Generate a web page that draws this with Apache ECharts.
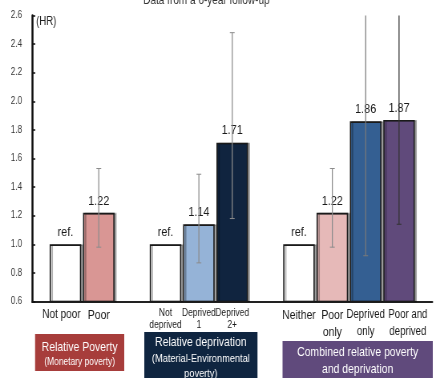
<!DOCTYPE html>
<html>
<head>
<meta charset="utf-8">
<script src="https://cdn.jsdelivr.net/npm/echarts@6/dist/echarts.min.js"></script>
<style>
html,body{margin:0;padding:0;background:#fff;overflow:hidden;width:434px;height:378px}
#c{width:542.5px;height:378px;transform:scaleX(0.8);transform-origin:0 0}
</style>
</head>
<body>
<div id="c"></div>
<script>
var categories = ['', 'Not poor', 'Poor', '', 'Not\ndeprived', 'Deprived\n1', 'Deprived\n2+', '', 'Neither', 'Poor\nonly', 'Deprived\nonly', 'Poor and\ndeprived', ''];
var hrValues = [null, 1.00, 1.22, null, 1.00, 1.14, 1.71, null, 1.00, 1.22, 1.86, 1.87, null];
var ciLower = [null, null, 0.98, null, null, 0.87, 1.18, null, null, 0.98, 0.92, 1.14, null];
var ciUpper = [null, null, 1.53, null, null, 1.49, 2.48, null, null, 1.53, 3.00, 3.00, null];
var barColors = ['#fff', '#ffffff', '#D99694', '#fff', '#ffffff', '#95B3D7', '#10243F', '#fff', '#ffffff', '#E6B9B8', '#345F92', '#604A7B', '#fff'];
var errColors = ['', '', '#8c8c8c', '', '', '#8c8c8c', '#8c8c8c', '', '', '#8c8c8c', '#7a7a7a', '#333333', ''];
var yTicks = ['0.6', '0.8', '1.0', '1.2', '1.4', '1.6', '1.8', '2.0', '2.2', '2.4', '2.6'];
var labelStyle = {
  1: 'np', 2: 'big', 4: 'small', 5: 'small', 6: 'small',
  8: 'big', 9: 'big', 10: 'mid', 11: 'mid2'
};

var S = 0.8; // horizontal compression of the whole page (text in the source is condensed)
function X(px) { return px / S; }
var FONT = '"Liberation Sans", Arial, sans-serif';

var chart = echarts.init(document.getElementById('c'), null, {renderer: 'canvas', width: 542.5, height: 378});

var barData = hrValues.map(function (v, i) {
  if (v === null) return null;
  return {value: v, itemStyle: {color: barColors[i]}};
});

var errData = [];
for (var i = 0; i < categories.length; i++) {
  if (ciLower[i] !== null) errData.push([i, ciLower[i], ciUpper[i]]);
}

var option = {
  animation: false,
  textStyle: {fontFamily: FONT},
  title: {
    text: 'Data from a 6-year follow-up',
    left: X(202), top: -11,
    textAlign: 'center',
    textStyle: {fontFamily: FONT, fontSize: 12.5, fontWeight: 'normal', color: '#333'}
  },
  grid: {left: X(32), top: 15.5, width: X(405), bottom: 76.5, containLabel: false},
  xAxis: {
    type: 'category',
    data: categories,
    boundaryGap: false,
    axisLine: {lineStyle: {color: '#222', width: 2}},
    axisTick: {show: false},
    axisLabel: {
      interval: 0,
      margin: 5,
      formatter: function (val, idx) {
        var s = labelStyle[idx];
        if (!s) return '';
        return val.split('\n').map(function (l) { return '{' + s + '|' + l + '}'; }).join('\n');
      },
      rich: {
        np: {fontFamily: FONT, fontSize: 12.5, lineHeight: 17, color: '#1a1a1a', padding: [0, 10, 0, 0]},
        big: {fontFamily: FONT, fontSize: 13, lineHeight: 17, color: '#1a1a1a'},
        small: {fontFamily: FONT, fontSize: 10.5, lineHeight: 12.5, color: '#1a1a1a'},
        mid: {fontFamily: FONT, fontSize: 12, lineHeight: 17, color: '#1a1a1a'},
        mid2: {fontFamily: FONT, fontSize: 12, lineHeight: 17, color: '#1a1a1a', padding: [0, 0, 0, 22]}
      }
    },
    splitLine: {show: false}
  },
  yAxis: {
    type: 'value',
    min: 0.6, max: 2.6, interval: 0.2,
    axisLine: {show: true, lineStyle: {color: '#111', width: 2.5}},
    axisTick: {show: true, inside: true, length: 4, lineStyle: {color: '#111', width: 1.5}},
    axisLabel: {
      margin: X(10),
      fontFamily: FONT, fontSize: 10, color: '#333',
      formatter: function (v) { var i = Math.round((v - 0.6) / 0.2); return yTicks[i] || ''; }
    },
    splitLine: {show: false}
  },
  series: [
    {
      type: 'bar',
      data: barData,
      barWidth: X(31.5),
      itemStyle: {borderColor: '#1a1a1a', borderWidth: 1.6, shadowColor: 'rgba(0,0,0,0.3)', shadowOffsetX: 2.5, shadowOffsetY: 0, shadowBlur: 0},
      label: {
        show: true,
        position: 'top',
        distance: 5,
        fontFamily: FONT, fontSize: 13.5, color: '#1a1a1a',
        formatter: function (p) { return p.value === 1 ? 'ref.' : p.value.toFixed(2); }
      },
      z: 2
    },
    {
      type: 'custom',
      clip: true,
      data: errData,
      encode: {x: 0, y: [1, 2]},
      renderItem: function (params, api) {
        var idx = api.value(0);
        var lo = api.coord([idx, api.value(1)]);
        var hi = api.coord([idx, api.value(2)]);
        var col = errColors[idx];
        var cw = 3;
        var style = {stroke: col, lineWidth: 1.25};
        var capStyle = {stroke: col, lineWidth: 1};
        var children = [
          {type: 'line', shape: {x1: lo[0], y1: lo[1], x2: hi[0], y2: hi[1]}, style: style},
          {type: 'line', shape: {x1: lo[0] - cw, y1: lo[1], x2: lo[0] + cw, y2: lo[1]}, style: capStyle},
          {type: 'line', shape: {x1: hi[0] - cw, y1: hi[1], x2: hi[0] + cw, y2: hi[1]}, style: capStyle}
        ];
        return {type: 'group', children: children};
      },
      z: 5
    }
  ],
  graphic: [
    {type: 'text', left: X(36), top: 15.5, style: {text: '(HR)', fontFamily: FONT, fontSize: 12, fill: '#222'}},
    {type: 'rect', shape: {x: X(35), y: 334, width: X(89), height: 37}, style: {fill: '#A73D3B'}},
    {type: 'text', x: X(79.5), y: 347, style: {text: 'Relative Poverty', fontFamily: FONT, fontSize: 13, fill: '#fff', align: 'center', verticalAlign: 'middle'}},
    {type: 'text', x: X(79.5), y: 362, style: {text: '(Monetary poverty)', fontFamily: FONT, fontSize: 10.5, fill: '#fff', align: 'center', verticalAlign: 'middle'}},
    {type: 'rect', shape: {x: X(144), y: 332, width: X(113), height: 50}, style: {fill: '#0F2540'}},
    {type: 'text', x: X(200.5), y: 342, style: {text: 'Relative deprivation', fontFamily: FONT, fontSize: 13, fill: '#fff', align: 'center', verticalAlign: 'middle'}},
    {type: 'text', x: X(200.5), y: 358.5, style: {text: '(Material-Environmental', fontFamily: FONT, fontSize: 11.5, fill: '#fff', align: 'center', verticalAlign: 'middle'}},
    {type: 'text', x: X(200.5), y: 374, style: {text: 'poverty)', fontFamily: FONT, fontSize: 11.5, fill: '#fff', align: 'center', verticalAlign: 'middle'}},
    {type: 'rect', shape: {x: X(282), y: 341, width: X(150), height: 42}, style: {fill: '#604A7C'}},
    {type: 'text', x: X(357), y: 352, style: {text: 'Combined relative poverty', fontFamily: FONT, fontSize: 13, fill: '#fff', align: 'center', verticalAlign: 'middle'}},
    {type: 'text', x: X(357), y: 369.5, style: {text: 'and deprivation', fontFamily: FONT, fontSize: 13, fill: '#fff', align: 'center', verticalAlign: 'middle'}}
  ]
};
chart.setOption(option);
</script>
</body>
</html>
